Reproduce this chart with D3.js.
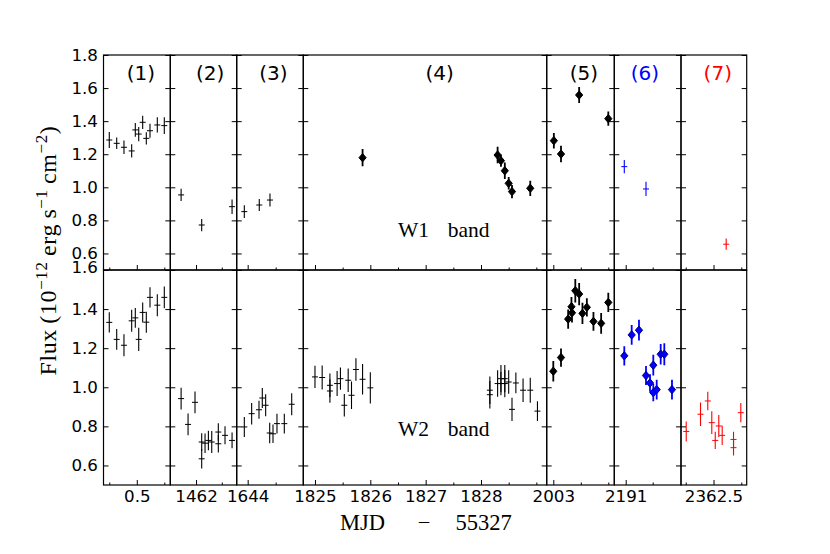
<!DOCTYPE html>
<html><head><meta charset="utf-8">
<script src="https://cdn.jsdelivr.net/npm/d3@7"></script>
<style>body{margin:0;background:#fff}</style>
</head><body>
<svg id="c" width="830" height="554" xmlns="http://www.w3.org/2000/svg"></svg>
<script>
// ---------------- data ----------------
const panelLabels = ["(1)","(2)","(3)","(4)","(5)","(6)","(7)"];
const panelDomains = [[-0.105,1.109],[1461.5,1462.79],[1643.804,1644.993],[1824.789,1829.187],[2002.88,2004.109],[2190.789,2192.024],[2361.915,2363.097]];
const majorTicks = [[0.5],[1462],[1644],[1825,1826,1827,1828],[2003],[2191],[2362.5]];
const minorTicks = [[0,1],[1462.5],[1644.5],[1825.5,1826.5,1827.5,1828.5,1829],[2003.5,2004],[2191.5],[2362,2363]];
const tickLabels = [["0.5"],["1462"],["1644"],["1825","1826","1827","1828"],["2003"],["2191"],["2362.5"]];
const w1Domain = [0.5,1.8];
const w2Domain = [0.5,1.6];
const w1Ticks = [0.6,0.8,1.0,1.2,1.4,1.6,1.8];
const w2Ticks = [0.6,0.8,1.0,1.2,1.4,1.6];

const W1_MJD = [
  [0,0.135,0.267,0.407,0.473,0.535,0.607,0.673,0.74,0.873,1.0],
  [1461.71,1462.11,1462.70],
  [1643.94,1644.207,1644.398],
  [1825.86,1828.30,1828.36,1828.43,1828.50,1828.56,1828.89],
  [2003.01,2003.14,2003.47,2004.0],
  [2190.974,2191.376],
  [2362.728]
];
const W1_FLUX = [
  [1.286,1.266,1.242,1.22,1.347,1.322,1.393,1.296,1.342,1.377,1.373],
  [0.954,0.772,0.883],
  [0.853,0.893,0.923],
  [1.179,1.195,1.161,1.10,1.024,0.974,0.994],
  [1.282,1.201,1.558,1.415],
  [1.125,0.99],
  [0.656]
];
const W1_ERR = [
  [0.048,0.035,0.041,0.04,0.042,0.043,0.04,0.037,0.043,0.046,0.05],
  [0.037,0.037,0.044],
  [0.038,0.037,0.039],
  [0.052,0.05,0.037,0.05,0.038,0.04,0.046],
  [0.047,0.05,0.048,0.043],
  [0.04,0.043],
  [0.034]
];
const W2_MJD = [
  [0,0.135,0.267,0.407,0.473,0.535,0.607,0.673,0.74,0.873,1.0],
  [1461.71,1461.845,1461.98,1462.11,1462.11,1462.175,1462.24,1462.305,1462.433,1462.433,1462.563,1462.70],
  [1643.94,1644.071,1644.202,1644.261,1644.321,1644.393,1644.452,1644.523,1644.654,1644.786],
  [1825.0,1825.13,1825.27,1825.27,1825.40,1825.46,1825.53,1825.60,1825.66,1825.74,1825.86,1826.0,
   1828.16,1828.16,1828.30,1828.36,1828.36,1828.43,1828.43,1828.50,1828.56,1828.63,1828.76,1828.89,1829.02],
  [2003.0,2003.14,2003.27,2003.33,2003.34,2003.40,2003.47,2003.53,2003.61,2003.73,2003.87,2004.0],
  [2190.974,2191.111,2191.246,2191.376,2191.45,2191.511,2191.511,2191.574,2191.648,2191.715,2191.857],
  [2362.009,2362.266,2362.397,2362.469,2362.531,2362.595,2362.656,2362.86,2362.86,2362.991]
];
const W2_FLUX = [
  [1.332,1.245,1.215,1.34,1.355,1.245,1.383,1.333,1.46,1.42,1.46],
  [0.942,0.81,0.923,0.72,0.634,0.714,0.728,0.72,0.771,0.711,0.754,0.728],
  [0.797,0.865,0.885,0.945,0.908,0.766,0.762,0.814,0.814,0.913],
  [1.053,1.05,1.01,0.981,1.019,1.044,0.908,1.036,0.959,1.091,1.041,0.997,
   0.985,0.962,1.019,1.044,1.019,1.044,1.019,1.027,0.887,1.022,0.985,0.985,0.878],
  [1.082,1.152,1.349,1.412,1.381,1.494,1.477,1.378,1.409,1.337,1.327,1.434],
  [1.161,1.268,1.292,1.06,1.022,1.113,0.973,0.988,1.169,1.169,0.988],
  [0.774,0.862,0.93,0.819,0.728,0.802,0.754,0.733,0.691,0.87]
];
const W2_ERR = [
  [0.052,0.053,0.056,0.056,0.051,0.06,0.051,0.054,0.052,0.056,0.056],
  [0.056,0.056,0.056,0.045,0.05,0.05,0.05,0.056,0.045,0.045,0.046,0.04],
  [0.051,0.055,0.046,0.051,0.056,0.053,0.047,0.051,0.05,0.056],
  [0.057,0.062,0.06,0.06,0.064,0.057,0.058,0.06,0.07,0.057,0.078,0.08,
   0.07,0.07,0.068,0.07,0.06,0.07,0.07,0.06,0.06,0.053,0.06,0.064,0.05],
  [0.053,0.047,0.049,0.05,0.05,0.06,0.057,0.054,0.047,0.048,0.053,0.049],
  [0.049,0.051,0.053,0.049,0.045,0.053,0.045,0.05,0.053,0.056,0.05],
  [0.051,0.06,0.047,0.058,0.044,0.056,0.049,0.04,0.04,0.049]
];

// ---------------- layout / style ----------------
const xEdges = [103.5,170.3,236.7,303.3,546.7,614.3,681,746.7];
const rows = [
  {y0:55, y1:270, domain:w1Domain, ticks:w1Ticks, X:W1_MJD, F:W1_FLUX, E:W1_ERR, band:"W1", bandY:0.70},
  {y0:270, y1:485, domain:w2Domain, ticks:w2Ticks, X:W2_MJD, F:W2_FLUX, E:W2_ERR, band:"W2", bandY:0.75}
];
const titleFrac = [0.56,0.6,0.55,0.56,0.55,0.46,0.56];
const titleColor = ["#000","#000","#000","#000","#000","#0000ff","#ff0000"];
function styleFor(r, p){
  if (p <= 2) return {shape:"plus", color:"#000", ew:1.1};
  if (p === 3) return r === 0 ? {shape:"diamond", color:"#000", fill:"#000", edge:"#000", ew:1.8}
                              : {shape:"plus", color:"#000", ew:1.1};
  if (p === 4) return {shape:"diamond", color:"#000", fill:"#000", edge:"#000", ew:1.8};
  if (p === 5) return r === 0 ? {shape:"plus", color:"#0000ff", ew:1.1}
                              : {shape:"diamond", color:"#0000ff", fill:"#0000ff", edge:"#00008b", ew:1.8};
  return {shape:"plus", color:"#ff0000", ew:1.1};
}

const svg = d3.select("#c");
svg.append("rect").attr("width",830).attr("height",554).attr("fill","#fff");
const defs = svg.append("defs");
const tickFont = "'DejaVu Sans', sans-serif";
const serif = "'Liberation Serif', 'Times New Roman', serif";

rows.forEach((row, r) => {
  const y = d3.scaleLinear().domain(row.domain).range([row.y1, row.y0]);
  for (let p = 0; p < 7; p++) {
    const x0 = xEdges[p], x1 = xEdges[p+1];
    const x = d3.scaleLinear().domain(panelDomains[p]).range([x0, x1]);
    const id = `clip${r}_${p}`;
    defs.append("clipPath").attr("id", id).append("rect")
      .attr("x", x0).attr("y", row.y0).attr("width", x1-x0).attr("height", row.y1-row.y0);
    const g = svg.append("g");

    const yl = g.append("g").attr("transform",`translate(${x0},0)`)
      .call(d3.axisRight(y).tickValues(row.ticks).tickSize(5).tickFormat(""));
    const yr = g.append("g").attr("transform",`translate(${x1},0)`)
      .call(d3.axisLeft(y).tickValues(row.ticks).tickSize(5).tickFormat(""));
    [yl, yr].forEach(a => { a.select(".domain").remove(); a.selectAll("line").attr("stroke","#000").attr("stroke-width",1); });

    const xm = g.append("g").attr("transform",`translate(0,${row.y1})`)
      .call(d3.axisTop(x).tickValues(majorTicks[p]).tickSize(5).tickFormat(""));
    const xn = g.append("g").attr("transform",`translate(0,${row.y1})`)
      .call(d3.axisTop(x).tickValues(minorTicks[p]).tickSize(2.5).tickFormat(""));
    [xm, xn].forEach(a => { a.select(".domain").remove(); a.selectAll("line").attr("stroke","#000").attr("stroke-width",1); });

    if (p === 0) {
      const lab = g.append("g").attr("transform",`translate(${x0},0)`)
        .call(d3.axisLeft(y).tickValues(row.ticks).tickSize(0).tickPadding(5.5).tickFormat(d3.format(".1f")));
      lab.select(".domain").remove();
      lab.selectAll("text").attr("font-family", tickFont).attr("font-size", 16.7).attr("fill","#000");
      // the top label of the lower row sits slightly raised, as in the reference
      if (r === 1) lab.selectAll(".tick").filter(d => d === 1.6).select("text").attr("dy", "0.12em");
    }
    if (r === 1) {
      const lab = g.append("g").attr("transform",`translate(0,${row.y1})`)
        .call(d3.axisBottom(x).tickValues(majorTicks[p]).tickSize(0).tickPadding(5)
          .tickFormat((d,i) => tickLabels[p][i]));
      lab.select(".domain").remove();
      lab.selectAll("text").attr("font-family", tickFont).attr("font-size", 16.7).attr("fill","#000");
    }

    const st = styleFor(r, p);
    const data = row.X[p].map((t,i) => ({t, f: row.F[p][i], e: row.E[p][i]}));
    const dg = g.append("g").attr("clip-path", `url(#${id})`);
    dg.selectAll("line.err").data(data).join("line").attr("class","err")
      .attr("x1", d => x(d.t)).attr("x2", d => x(d.t))
      .attr("y1", d => y(d.f - d.e)).attr("y2", d => y(d.f + d.e))
      .attr("stroke", st.color).attr("stroke-width", st.ew);
    if (st.shape === "plus") {
      dg.selectAll("line.ph").data(data).join("line").attr("class","ph")
        .attr("x1", d => x(d.t) - 3).attr("x2", d => x(d.t) + 3)
        .attr("y1", d => y(d.f)).attr("y2", d => y(d.f))
        .attr("stroke", st.color).attr("stroke-width", 1);
    } else {
      dg.selectAll("path.dm").data(data).join("path").attr("class","dm")
        .attr("d", d => { const cx = x(d.t), cy = y(d.f);
          return `M${cx},${cy-4.2}L${cx+3.6},${cy}L${cx},${cy+4.2}L${cx-3.6},${cy}Z`; })
        .attr("fill", st.fill).attr("stroke", st.edge).attr("stroke-width", 1);
    }

    g.append("rect").attr("x", x0).attr("y", row.y0).attr("width", x1-x0).attr("height", row.y1-row.y0)
      .attr("fill","none").attr("stroke","#000").attr("stroke-width",1.2);

    if (r === 0) {
      g.append("text").attr("x", x0 + titleFrac[p]*(x1-x0)).attr("y", 80)
        .attr("text-anchor","middle").attr("font-family", tickFont).attr("font-size", 20)
        .attr("fill", titleColor[p]).text(panelLabels[p]);
    }
    if (p === 3) {
      const by = y(row.bandY);
      g.append("text").attr("x", x(1826.5)).attr("y", by).attr("font-family", serif)
        .attr("font-size", 21.5).attr("fill","#000").text(row.band);
      g.append("text").attr("x", x(1827.4)).attr("y", by).attr("font-family", serif)
        .attr("font-size", 21.5).attr("fill","#000").text("band");
    }
  }
});

// x axis label
const cx = (xEdges[0] + xEdges[7]) / 2;
[["MJD",-62.5],["\u2212",-1],["55327",58.5]].forEach(([t,dx]) => {
  svg.append("text").attr("x", cx + dx).attr("y", 530).attr("text-anchor","middle")
    .attr("font-family", serif).attr("font-size", 22.5).attr("fill","#000").text(t);
});

// y axis label
const ylab = svg.append("text").attr("transform","translate(56,250.5) rotate(-90)")
  .attr("text-anchor","middle").attr("font-family", serif).attr("font-size", 24)
  .attr("letter-spacing", 0.6).attr("fill","#000");
ylab.append("tspan").text("Flux\u2009(10");
ylab.append("tspan").attr("dy",-9).attr("font-size",17).text("\u221212");
ylab.append("tspan").attr("dy",9).text("\u2009erg\u2009s");
ylab.append("tspan").attr("dy",-9).attr("font-size",17).text("\u22121");
ylab.append("tspan").attr("dy",9).text("\u2009cm");
ylab.append("tspan").attr("dy",-9).attr("font-size",17).text("\u22122");
ylab.append("tspan").attr("dy",9).text(")");
</script>
</body></html>
